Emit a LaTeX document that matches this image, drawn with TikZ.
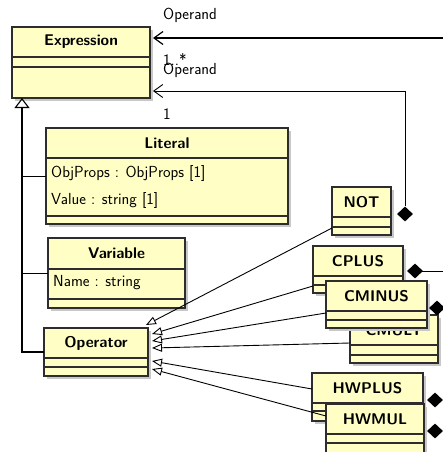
\documentclass[tikz,border=0pt]{standalone}
\usepackage{tikz}
\usetikzlibrary{arrows.meta,shapes.geometric}

\definecolor{classfill}{RGB}{255,255,197}
\definecolor{classline}{RGB}{45,45,45}
\definecolor{shadowgray}{RGB}{200,200,200}

\begin{document}
\begin{tikzpicture}[x=1pt,y=-1pt,
    font=\sffamily\fontsize{16}{19}\selectfont,
    classbox/.style={draw=classline, fill=classfill, line width=1.3pt, inner sep=0pt, outer sep=0pt, anchor=north west},
    classname/.style={font=\sffamily\bfseries\fontsize{15.5}{18}\selectfont},
    attr/.style={anchor=west, inner sep=0pt},
    role/.style={anchor=west, inner sep=0pt},
    compartment/.style={draw=classline, line width=1.3pt},
    conn/.style={line width=0.9pt},
    assoc/.style={conn, -{Straight Barb[length=9pt,width=13pt]}, shorten >=3pt},
    inherit/.style={conn, -{Triangle[open,length=10pt,width=8pt]}},
    inheritbig/.style={conn, line width=1.1pt, -{Triangle[open,length=10pt,width=15pt]}},
    compose/.style={diamond, fill=black, inner sep=0pt, minimum width=16pt, minimum height=15pt}]

    \path[use as bounding box, clip] (0,0) rectangle (443,452);

    % Classes: name/title/left/top/right/bottom/first line/second line
    \foreach \n/\t/\xa/\ya/\xb/\yb/\la/\lb in {
        expr/Expression/12/27/150/98/57/67,
        literal/Literal/46/128/288/224/158/216,
        variable/Variable/48/238/185/308/269/299,
        operator/Operator/44/328/148/376/358/367,
        notop/NOT/332/187/391/235/217/227,
        cplus/CPLUS/313/246/403/293/276/285,
        cmult/CMULT/350/315/438/363/345/355,
        cminus/CMINUS/326/281/427/328/311/320,
        hwplus/HWPLUS/312/373/423/421/403/411,
        hwmul/HWMUL/326/404/424/470/434/443}{
        \fill[shadowgray] (\xa+3,\ya+3) rectangle (\xb+3,\yb+3);
        \node[classbox, minimum width={(\xb-\xa)*1pt}, minimum height={(\yb-\ya)*1pt}] (\n) at (\xa,\ya) {};
        \node[classname] at ({(\xa+\xb)/2},{(\ya+\la)/2}) {\t};
        \draw[compartment] (\xa,\la) -- (\xb,\la) (\xa,\lb) -- (\xb,\lb);
    }

    % Attributes
    \node[attr] (objprops) at (51,173) {ObjProps : ObjProps [1]};
    \node[attr] (value) at (51,200) {Value : string [1]};
    \node[attr] (name) at (53,283) {Name : string};

    % Composition ends
    \coordinate (offright) at (443,38);
    \coordinate (cplusout) at (443,271);
    \draw[conn] (415,271) -- (cplusout);
    \node[compose] (notdia) at (405,214) {};
    \node[compose] (cplusdia) at (415,271) {};
    \node[compose] (cminusdia) at (437,308) {};
    \node[compose] (hwplusdia) at (435,400) {};
    \node[compose] (hwmuldia) at (435,431) {};

    % Associations to Expression
    \draw[assoc, line width=1.2pt] (offright) -- ([yshift=-11pt]expr.north east);
    \draw[assoc] (notdia.north) |- ([yshift=7pt]expr.south east);
    \node[role] (rolea) at (163,15) {Operand};
    \node[role] (multa) at (163,60) {1..*};
    \node[role] (roleb) at (163,70) {Operand};
    \node[role] (multb) at (163,114) {1};

    % Generalization to Expression
    \coordinate (trunk) at ([xshift=10pt]expr.south west);
    \draw[inheritbig] (operator.west) -| (trunk);
    \draw[conn] (literal.west) -- (literal.west -| trunk);
    \draw[conn] (variable.west) -- (variable.west -| trunk);

    % Generalizations to Operator
    \draw[inherit] ([yshift=7pt]notop.south west) -- ([xshift=-2pt,yshift=3pt]operator.north east);
    \draw[inherit] ([yshift=7pt]cplus.south west) -- ([xshift=4pt,yshift=18pt]operator.east);
    \draw[inherit] ([yshift=15pt]cminus.south west) -- ([xshift=4pt,yshift=11pt]operator.east);
    \draw[inherit] ([yshift=20pt]cmult.south west) -- ([xshift=4pt,yshift=4pt]operator.east);
    \draw[inherit] ([yshift=8pt]hwplus.west) -- ([xshift=4pt,yshift=-9pt]operator.east);
    \draw[inherit] ([yshift=-12pt]hwmul.north west) -- ([xshift=4pt,yshift=-17pt]operator.east);
\end{tikzpicture}
\end{document}
